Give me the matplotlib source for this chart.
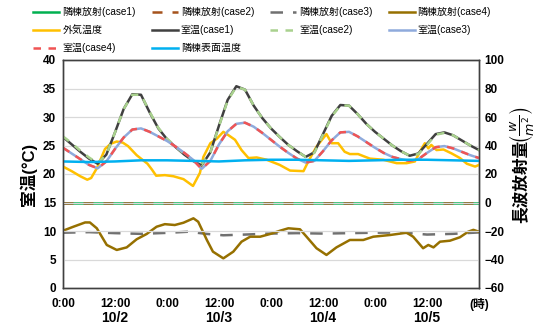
import numpy as np
import matplotlib
matplotlib.use("Agg")
import matplotlib.pyplot as plt

plt.rcParams['font.family'] = ['Liberation Sans', 'Noto Sans CJK JP', 'DejaVu Sans']

# ---- data (hours from 10/2 0:00) ----
hours2 = list(range(0, 97, 2))

room_case1 = [26.5, 25.2, 23.9, 22.7, 21.8, 23.4, 27.3, 31.4, 34.0, 33.9,
              30.8, 28.0, 26.1, 24.7, 23.4, 22.3, 21.5, 23.8, 28.5, 33.0,
              35.4, 34.8, 32.0, 29.8, 28.0, 26.5, 25.1, 24.0, 23.0, 23.8,
              27.0, 30.2, 32.1, 32.0, 30.5, 28.8, 27.4, 26.2, 25.0, 24.0,
              23.2, 23.6, 25.3, 27.0, 27.3, 26.8, 25.9, 25.0, 24.2]
room_case2 = [26.6, 25.4, 24.1, 22.9, 21.9, 23.4, 27.3, 31.4, 33.9, 33.9,
              30.9, 28.1, 26.2, 24.8, 23.5, 22.4, 21.6, 23.8, 28.4, 32.9,
              35.3, 34.8, 32.0, 29.8, 28.0, 26.5, 25.1, 24.0, 23.0, 23.7,
              26.9, 30.1, 32.0, 32.0, 30.5, 28.8, 27.4, 26.2, 25.0, 24.0,
              23.2, 23.5, 25.1, 26.9, 27.2, 26.8, 25.9, 25.0, 24.2]
room_case3 = [24.6, 23.6, 22.6, 21.6, 21.0, 22.2, 24.4, 26.4, 27.8, 28.0,
              27.4, 26.6, 25.8, 24.8, 23.7, 22.5, 20.9, 22.3, 25.2, 27.5,
              28.8, 29.0, 28.3, 27.2, 26.0, 24.8, 23.7, 22.7, 22.0, 22.3,
              24.0, 25.9, 27.3, 27.4, 26.6, 25.6, 24.6, 23.7, 23.0, 22.6,
              22.3, 22.6, 23.7, 24.7, 24.9, 24.5, 23.9, 23.3, 22.8]
room_case4 = list(room_case3)

hours6 = list(range(0, 97, 6))
surface_temp = [22.2, 22.1, 22.2, 22.4, 22.4, 22.3, 22.2, 22.4, 22.5,
                22.5, 22.4, 22.3, 22.4, 22.5, 22.5, 22.4, 22.3]

outside_h = [0, 2, 4, 5.6, 6.5, 7.8, 9.7, 11, 12.4, 13.8, 15, 17, 19.5, 20.5,
             21.5, 23.5, 25.5, 27.8, 30, 31.6, 32.4, 34, 35.5, 37, 38.2, 39.7,
             41.2, 42.8, 44.7, 47, 50, 52.4, 55.5, 56.6, 58.5, 60.8, 62, 63.5,
             65, 66.2, 68.1, 70.8, 73.9, 77, 79.3, 81.2, 82.8, 83.5, 84.3, 85,
             86.2, 87.8, 89.7, 91.6, 93.2, 95.1, 96]
outside_temp = [21.3, 20.5, 19.6, 19.0, 19.3, 21.0, 24.4, 25.3, 25.7, 25.5,
                24.9, 23.3, 21.8, 20.8, 19.7, 19.8, 19.6, 19.1, 17.9, 20.2,
                23.0, 25.4, 26.2, 27.4, 26.8, 26.0, 24.2, 22.8, 22.9, 22.5,
                21.6, 20.6, 20.5, 22.2, 24.8, 27.0, 25.4, 25.4, 23.9, 23.5,
                23.5, 22.7, 22.5, 21.9, 21.9, 22.2, 24.5, 25.4, 24.5, 25.1,
                24.2, 24.3, 23.6, 22.8, 21.8, 21.3, 21.6]

rad_flat_h = [0, 96]
rad_case1 = [0, 0]
rad_case2 = [0, 0]

rad3_h = [0, 6, 12, 18, 24, 29, 33, 37, 42, 48, 54, 60, 66, 72, 78, 84, 90, 96]
rad_case3 = [-21.2, -20.8, -21.5, -22.0, -21.3, -20.5, -22.0, -23.0, -22.5,
             -21.8, -21.5, -21.8, -21.5, -21.2, -21.0, -22.5, -22.0, -21.0]

rad4_h = [0, 2.4, 5.1, 6.2, 7.8, 10.1, 12.4, 14.7, 17, 19.3, 21.6, 23.5, 25.8,
          27.8, 30.1, 31.2, 33.2, 34.6, 37, 39.3, 41.2, 43.2, 45.5, 47.8, 50.1,
          52, 54.7, 56.2, 58.5, 60.8, 63.1, 66.2, 69.3, 71.6, 75.5, 79.3, 80.8,
          83.1, 84.3, 85.5, 87, 89.3, 91.6, 93.5, 94.7, 96]
rad_case4 = [-19.8, -17.0, -14.0, -14.0, -18.1, -29.8, -33.3, -31.5, -25.8,
             -22.1, -17.0, -15.2, -15.8, -14.2, -11.1, -13.5, -26.3, -34.5,
             -39.2, -34.5, -27.5, -24.0, -24.0, -22.1, -19.8, -18.1, -18.8,
             -24.0, -32.1, -36.8, -31.5, -26.3, -26.3, -24.0, -22.8, -21.2,
             -24.0, -32.1, -29.8, -31.5, -27.5, -26.8, -24.4, -20.5, -19.2,
             -20.5]

xtick_pos = list(range(0, 97, 12))
xtick_labels = ["0:00", "12:00", "0:00", "12:00", "0:00", "12:00", "0:00", "12:00", "(時)"]
date_pos = [12, 36, 60, 84]
date_labels = ["10/2", "10/3", "10/4", "10/5"]

# ---- figure ----
fig = plt.figure(figsize=(5.43, 3.27), dpi=100)
ax = fig.add_axes([63 / 543, 39 / 327, 416 / 543, 228 / 327])
ax2 = ax.twinx()

lw = 1.8
h_r1, = ax2.plot(rad_flat_h, rad_case1, color="#00B050", lw=lw, label="隣棟放射(case1)")
h_r2, = ax2.plot(rad_flat_h, rad_case2, color="#A5521C", lw=lw, dashes=(4, 4), label="隣棟放射(case2)")
h_r3, = ax2.plot(rad3_h, rad_case3, color="#707070", lw=lw, dashes=(5, 4), label="隣棟放射(case3)")
h_r4, = ax2.plot(rad4_h, rad_case4, color="#967000", lw=lw, label="隣棟放射(case4)")

h_out, = ax.plot(outside_h, outside_temp, color="#FFC000", lw=lw, label="外気温度")
h_c1, = ax.plot(hours2, room_case1, color="#404040", lw=lw, label="室温(case1)")
h_c2, = ax.plot(hours2, room_case2, color="#A9D18E", lw=lw, dashes=(3, 3), label="室温(case2)")
h_c3, = ax.plot(hours2, room_case3, color="#8FAADC", lw=lw, label="室温(case3)")
h_c4, = ax.plot(hours2, room_case4, color="#F05454", lw=lw, dashes=(3, 3), label="室温(case4)")
h_sf, = ax.plot(hours6, surface_temp, color="#00B0F0", lw=lw, label="隣棟表面温度")

ax.set_zorder(ax2.get_zorder() + 1)
ax.patch.set_visible(False)

ax.set_xlim(0, 96)
ax.set_ylim(0, 40)
ax2.set_ylim(-60, 100)
ax.set_yticks(range(0, 41, 5))
ax2.set_yticks(range(-60, 101, 20))
ax.set_xticks(xtick_pos)
ax.set_xticklabels(xtick_labels)
ax.grid(axis="y", color="#D9D9D9", lw=0.9)
ax.set_axisbelow(True)

for a in (ax, ax2):
    a.tick_params(length=0, labelsize=8.5, pad=4)
    for lab in a.get_yticklabels() + a.get_xticklabels():
        lab.set_fontweight("bold")
    for s in a.spines.values():
        s.set_color("#404040")
        s.set_linewidth(1.0)
ax.tick_params(axis="x", pad=7)
ax.tick_params(axis="y", pad=5)

for x, t in zip(date_pos, date_labels):
    ax.text(x, -0.13, t, transform=ax.get_xaxis_transform(), ha="center", va="center",
            fontsize=10, fontweight="bold")

ax.set_ylabel("室温(°C)", fontsize=12, fontweight="bold", labelpad=4)

# right label: CJK part and fraction as separate texts
fig.text(521 / 543, 1 - 223 / 327, "長波放射量", rotation=90, ha="center", va="bottom",
         fontsize=12, fontweight="bold")
fig.text(521 / 543, 1 - 106 / 327, r"$\left(\frac{w}{m^2}\right)$", rotation=90,
         ha="center", va="top", fontsize=13)

handles = [h_r1, h_out, h_c4, h_r2, h_c1, h_sf, h_r3, h_c2, h_r4, h_c3]
fig.legend(handles=handles, labels=[h.get_label() for h in handles], ncol=4,
           loc="upper left", bbox_to_anchor=(0.045, 1.006), frameon=False,
           fontsize=7.2, handlelength=2.6, handletextpad=0.3, columnspacing=1.6,
           labelspacing=0.78)

fig.savefig("out.png", dpi=100)
